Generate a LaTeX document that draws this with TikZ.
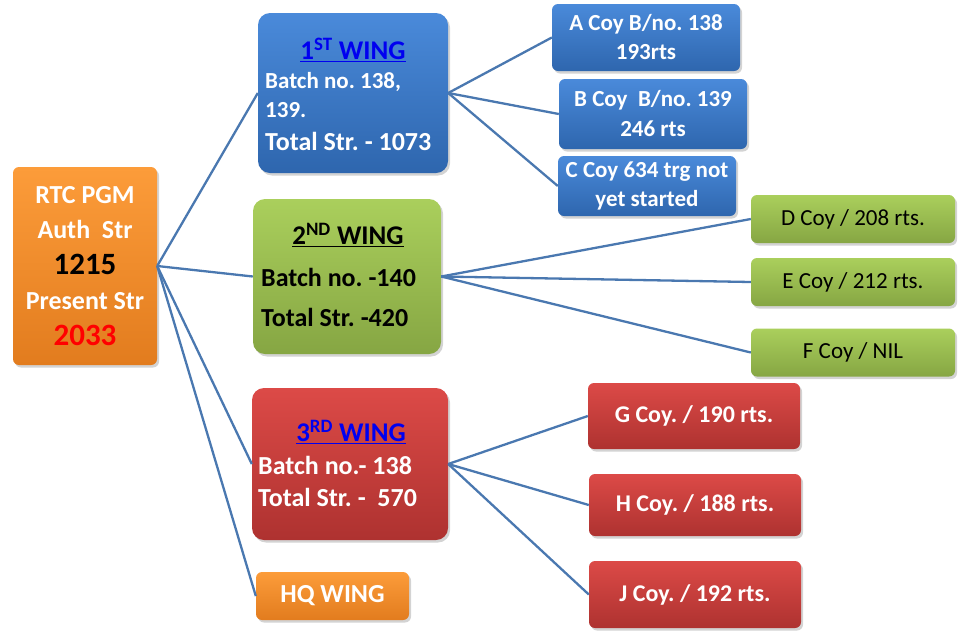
\documentclass[tikz,border=0pt]{standalone}
\usepackage{xcolor}
\usepackage{fontspec}
\setmainfont{Carlito}
\usetikzlibrary{shadows, positioning}

\definecolor{blueTop}{HTML}{4A8ADA}
\definecolor{blueBot}{HTML}{2E66AE}
\definecolor{greenTop}{HTML}{AACF5C}
\definecolor{greenBot}{HTML}{86A643}
\definecolor{redTop}{HTML}{DC4A47}
\definecolor{redBot}{HTML}{AE3230}
\definecolor{orangeTop}{HTML}{FC9C3A}
\definecolor{orangeBot}{HTML}{E27C1E}
\definecolor{conn}{HTML}{4A78B0}
\definecolor{titleblue}{HTML}{0000F0}

\tikzset{
  box/.style={rounded corners=6pt, inner sep=0pt, align=center,
    drop shadow={shadow xshift=2pt, shadow yshift=-2.5pt, opacity=0.35},
    font=\bfseries\fontsize{23}{29}\selectfont, text=white},
  wing/.style={box, rounded corners=12pt},
  bluebox/.style={top color=blueTop, bottom color=blueBot},
  greenbox/.style={top color=greenTop, bottom color=greenBot},
  redbox/.style={top color=redTop, bottom color=redBot},
  orangebox/.style={top color=orangeTop, bottom color=orangeBot},
  wingtxt/.style={inner sep=0pt, font=\bfseries\fontsize{23}{25}\selectfont},
  wingttl/.style={wingtxt, font=\bfseries\fontsize{27}{30}\selectfont},
}

\begin{document}
\frenchspacing
\begin{tikzpicture}[x=1pt, y=-1pt]
  \useasboundingbox (0,0) rectangle (963,638);
  % root and wings
  \node[box, orangebox, minimum width=144pt, minimum height=198pt,
    font=\bfseries\fontsize{26}{35.5}\selectfont] (root) at (85,266)
    {RTC PGM\\Auth~ Str\\{\color{black}\fontsize{31}{35.5}\selectfont 1215}\\Present Str\\{\color{red}\fontsize{31}{35.5}\selectfont 2033}};
  \node[wing, bluebox, minimum width=190pt, minimum height=160pt] (w1) at (353,93) {};
  \node[wing, greenbox, minimum width=188pt, minimum height=155pt] (w2) at (347,276.5) {};
  \node[wing, redbox, minimum width=196pt, minimum height=152pt] (w3) at (350,464) {};
  \node[box, orangebox, minimum width=153pt, minimum height=48pt,
    font=\bfseries\fontsize{26}{29}\selectfont] (hq) at (332.5,596) {HQ WING};

  % wing texts
  \begin{scope}[every node/.style={wingtxt}]
    \node[wingttl, text=titleblue] (w1t) at (353,50) {\underline{1\textsuperscript{ST} WING}};
    \node[text=white, anchor=west] (w1a) at (265,82) {Batch no. 138,};
    \node[text=white, anchor=west] (w1b) at (265,110) {139.};
    \node[text=white, anchor=west, font=\bfseries\fontsize{26}{28}\selectfont] (w1c) at (265,141) {Total Str. - 1073};
    \node[wingttl, text=black] (w2t) at (348,235) {\underline{2\textsuperscript{ND} WING}};
    \node[text=black, anchor=west, font=\bfseries\fontsize{26}{28}\selectfont] (w2a) at (261,277) {Batch no. -140};
    \node[text=black, anchor=west, font=\bfseries\fontsize{26}{28}\selectfont] (w2b) at (261,317) {Total Str. -420};
    \node[wingttl, text=titleblue] (w3t) at (351,432) {\underline{3\textsuperscript{RD} WING}};
    \node[text=white, anchor=west, font=\bfseries\fontsize{26}{28}\selectfont] (w3a) at (258,465) {Batch no.- 138};
    \node[text=white, anchor=west, font=\bfseries\fontsize{26}{28}\selectfont] (w3b) at (258,497) {Total Str. -~ 570};
  \end{scope}

  % companies
  \node[box, bluebox, minimum width=188pt, minimum height=67pt] (ca) at (646,37.5) {A Coy B/no. 138\\193rts};
  \node[box, bluebox, minimum width=188pt, minimum height=70pt, font=\bfseries\fontsize{23}{30}\selectfont] (cb) at (653,114) {B Coy~ B/no. 139\\246 rts};
  \node[box, bluebox, minimum width=178pt, minimum height=60pt] (cc) at (647,186) {C Coy 634 trg not\\yet started};
  \begin{scope}[every node/.style={box, greenbox, text=black, minimum width=204pt, minimum height=48pt,
      font=\fontsize{23}{25}\selectfont}]
    \node (cd) at (853,219) {D Coy / 208 rts.};
    \node (ce) at (853,282) {E Coy / 212 rts.};
    \node (cf) at (853,352.5) {F Coy / NIL};
  \end{scope}
  \begin{scope}[every node/.style={box, redbox, minimum width=212pt, font=\bfseries\fontsize{24}{25}\selectfont}]
    \node[minimum height=66pt] (cg) at (694,416) {G Coy. / 190 rts.};
    \node[minimum height=62pt] (ch) at (695,505) {H Coy. / 188 rts.};
    \node[minimum height=67pt] (cj) at (695,594.5) {J Coy. / 192 rts.};
  \end{scope}

  % connectors
  \begin{scope}[every edge/.style={draw=conn, line width=2.3pt}]
    \path (root.east) edge (w1.west)
                      edge (w2.west)
                      edge (w3.west)
                      edge (hq.west);
    \path (w1.east) edge (ca.west)
                    edge (cb.west)
                    edge (cc.west);
    \path (w2.east) edge (cd.west)
                    edge (ce.west)
                    edge (cf.west);
    \path (w3.east) edge (cg.west)
                    edge (ch.west)
                    edge (cj.west);
  \end{scope}
\end{tikzpicture}
\end{document}
